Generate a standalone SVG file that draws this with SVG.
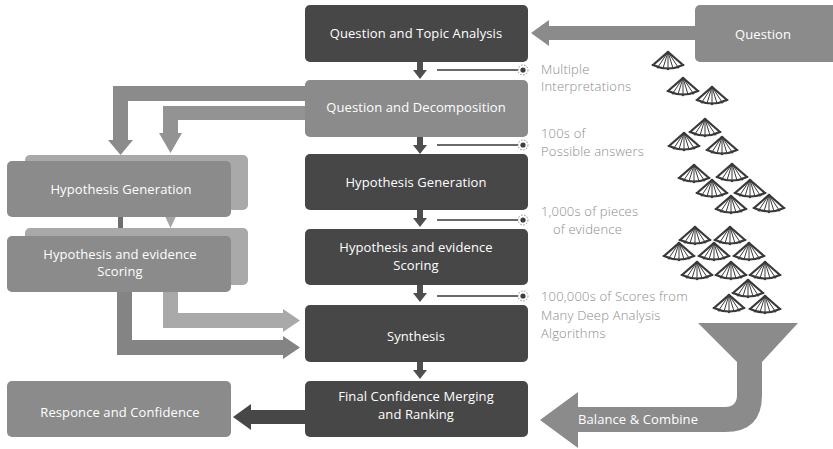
<svg xmlns="http://www.w3.org/2000/svg" width="833" height="449" viewBox="0 0 833 449">
  <style>
    .dark { fill: #474747; }
    .mid { fill: #8b8b8b; }
    .shadow { fill: #a9a9a9; }
    .box-text { font-family: "Open Sans", "Noto Sans", sans-serif; font-size: 13px; letter-spacing: 0.1px; fill: #ffffff; text-anchor: middle; }
    .note { font-family: "Open Sans", "Noto Sans", sans-serif; font-size: 13px; font-weight: 300; letter-spacing: 0.2px; fill: #8c8c8c; }
    .tick { stroke: #6a6a6a; stroke-width: 2; }
    .dot-ring { fill: #ffffff; stroke: #8a8a8a; stroke-width: 1; stroke-dasharray: 1.5 1.5; }
    .fan-line { fill: none; stroke: #3a3a3a; stroke-linecap: round; }
  </style>
  <defs>
    <!-- fan glyph used for the cascade of candidates -->
    <symbol id="fan" overflow="visible">
      <path class="fan-line" stroke-width="2.2" d="M -15 13 L 0 0 L 15 13 M -15 13 Q 0 20 15 13"/>
      <path class="fan-line" stroke-width="1" d="M 0 0 L -10 15 M 0 0 L -5 16.3 M 0 0 L 0 16.6 M 0 0 L 5 16.3 M 0 0 L 10 15"/>
      <g fill="#3a3a3a">
        <circle cx="0" cy="0.5" r="1.6"/>
        <circle cx="-10" cy="15.3" r="1.2"/>
        <circle cx="0" cy="17" r="1.2"/>
        <circle cx="10" cy="15.3" r="1.2"/>
        <circle cx="-15.5" cy="13" r="1"/>
        <circle cx="15.5" cy="13" r="1"/>
      </g>
    </symbol>
    <g id="step-arrow">
      <rect x="-3" y="0" width="6" height="9" fill="#4e4e4e"/>
      <path d="M -7 8 L 7 8 L 0 17 Z" fill="#4e4e4e"/>
    </g>
    <g id="tap">
      <line class="tick" x1="0" y1="0" x2="84" y2="0"/>
      <circle class="dot-ring" cx="86" cy="0" r="5"/>
      <circle cx="86" cy="0" r="2.6" fill="#3e3e3e"/>
    </g>
  </defs>

  <rect width="833" height="449" fill="#ffffff"/>

  <!-- connectors -->
  <g id="connectors">
    <!-- Question to analysis -->
    <path class="mid" d="M 697 26 L 549 26 L 549 20 L 531 33 L 549 46 L 549 40 L 697 40 Z"/>
    <!-- decomposition fans out to the left column -->
    <path class="mid" d="M 305 86 L 113 86 L 113 140 L 108 140 L 120.5 155 L 133 140 L 128 140 L 128 101 L 305 101 Z"/>
    <path fill="#939393" d="M 305 106 L 163 106 L 163 133 L 159 133 L 170.5 153 L 182 133 L 178 133 L 178 120 L 305 120 Z"/>
    <!-- between left column boxes -->
    <path fill="#6e6e6e" d="M 118 217 L 123 217 L 123 228 L 126 228 L 120.5 236 L 115 228 L 118 228 Z"/>
    <path fill="#a5a5a5" d="M 163 212 L 178 212 L 170.5 228 Z"/>
    <!-- scoring to synthesis -->
    <path class="shadow" d="M 163 285 L 178 285 L 178 313 L 283 313 L 283 309 L 300 320.5 L 283 332 L 283 328 L 163 328 Z"/>
    <path fill="#848484" d="M 117 292 L 132 292 L 132 340 L 283 340 L 283 336 L 300 347.5 L 283 359 L 283 355 L 117 355 Z"/>
    <!-- ranking to response -->
    <path fill="#474747" d="M 305 410 L 251 410 L 251 404 L 233 417 L 251 430 L 251 424 L 305 424 Z"/>
    <!-- main column steps -->
    <use href="#step-arrow" x="420" y="62"/>
    <use href="#step-arrow" x="420" y="137"/>
    <use href="#step-arrow" x="420" y="210"/>
    <use href="#step-arrow" x="420" y="285"/>
    <use href="#step-arrow" x="420" y="362"/>
    <!-- side taps -->
    <use href="#tap" x="437" y="70"/>
    <use href="#tap" x="437" y="145"/>
    <use href="#tap" x="437" y="220"/>
    <use href="#tap" x="437" y="296"/>
  </g>

  <!-- main column -->
  <g id="topic-analysis">
    <rect class="dark" x="305" y="5" width="223" height="57" rx="5"/>
    <text class="box-text" x="416" y="38">Question and Topic Analysis</text>
  </g>
  <g id="decomposition">
    <rect class="mid" x="305" y="80" width="223" height="57" rx="5"/>
    <text class="box-text" x="416" y="112">Question and Decomposition</text>
  </g>
  <g id="hypothesis-generation">
    <rect class="dark" x="305" y="154" width="223" height="56" rx="5"/>
    <text class="box-text" x="416" y="187">Hypothesis Generation</text>
  </g>
  <g id="evidence-scoring">
    <rect class="dark" x="305" y="229" width="223" height="56" rx="5"/>
    <text class="box-text" x="416" y="252">Hypothesis and evidence</text>
    <text class="box-text" x="416" y="270">Scoring</text>
  </g>
  <g id="synthesis">
    <rect class="dark" x="305" y="305" width="223" height="57" rx="5"/>
    <text class="box-text" x="416" y="341">Synthesis</text>
  </g>
  <g id="final-merging">
    <rect class="dark" x="305" y="381" width="223" height="56" rx="5"/>
    <text class="box-text" x="416" y="401">Final Confidence Merging</text>
    <text class="box-text" x="416" y="419">and Ranking</text>
  </g>

  <!-- input -->
  <g id="question">
    <rect class="mid" x="695" y="5" width="145" height="57" rx="5"/>
    <text class="box-text" x="763" y="39">Question</text>
  </g>

  <!-- left column -->
  <g id="left-generation">
    <rect class="shadow" x="25" y="155" width="223" height="55" rx="5"/>
    <rect class="mid" x="7" y="161" width="224" height="56" rx="5"/>
    <text class="box-text" x="121" y="194">Hypothesis Generation</text>
  </g>
  <g id="left-scoring">
    <rect class="shadow" x="25" y="228" width="223" height="57" rx="5"/>
    <rect class="mid" x="7" y="236" width="224" height="56" rx="5"/>
    <text class="box-text" x="120" y="259">Hypothesis and evidence</text>
    <text class="box-text" x="120" y="276">Scoring</text>
  </g>
  <g id="response">
    <rect class="mid" x="7" y="381" width="224" height="56" rx="5"/>
    <text class="box-text" x="120" y="417">Responce and Confidence</text>
  </g>

  <!-- notes -->
  <g id="notes">
    <text class="note" x="541" y="74">Multiple</text>
    <text class="note" x="541" y="91">Interpretations</text>
    <text class="note" x="541" y="138">100s of</text>
    <text class="note" x="541" y="156">Possible answers</text>
    <text class="note" x="541" y="216">1,000s of pieces</text>
    <text class="note" x="553" y="234">of evidence</text>
    <text class="note" x="541" y="301">100,000s of Scores from</text>
    <text class="note" x="541" y="320">Many Deep Analysis</text>
    <text class="note" x="541" y="338">Algorithms</text>
  </g>

  <!-- candidate cascade -->
  <g id="cascade">
    <use href="#fan" x="668" y="52"/>
    <use href="#fan" x="683" y="78"/>
    <use href="#fan" x="712" y="87"/>
    <use href="#fan" x="705" y="119"/>
    <use href="#fan" x="684" y="133"/>
    <use href="#fan" x="722" y="137"/>
    <use href="#fan" x="694" y="165"/>
    <use href="#fan" x="732" y="164"/>
    <use href="#fan" x="712" y="180"/>
    <use href="#fan" x="750" y="180"/>
    <use href="#fan" x="731" y="196"/>
    <use href="#fan" x="769" y="195"/>
    <use href="#fan" x="695" y="227"/>
    <use href="#fan" x="730" y="227"/>
    <use href="#fan" x="679" y="243"/>
    <use href="#fan" x="714" y="243"/>
    <use href="#fan" x="749" y="243"/>
    <use href="#fan" x="697" y="262"/>
    <use href="#fan" x="731" y="262"/>
    <use href="#fan" x="765" y="262"/>
    <use href="#fan" x="748" y="280"/>
    <use href="#fan" x="729" y="295"/>
    <use href="#fan" x="765" y="296"/>
  </g>

  <!-- funnel -->
  <g id="balance-combine">
    <path class="mid" d="M 698 323 L 798 323 L 762 362 L 762 395 Q 762 432 725 432 L 578 432 L 578 448 L 540 420 L 578 392 L 578 407 L 725 407 Q 737 407 737 395 L 737 362 Z"/>
    <text class="box-text" x="638" y="424">Balance &amp; Combine</text>
  </g>
</svg>
